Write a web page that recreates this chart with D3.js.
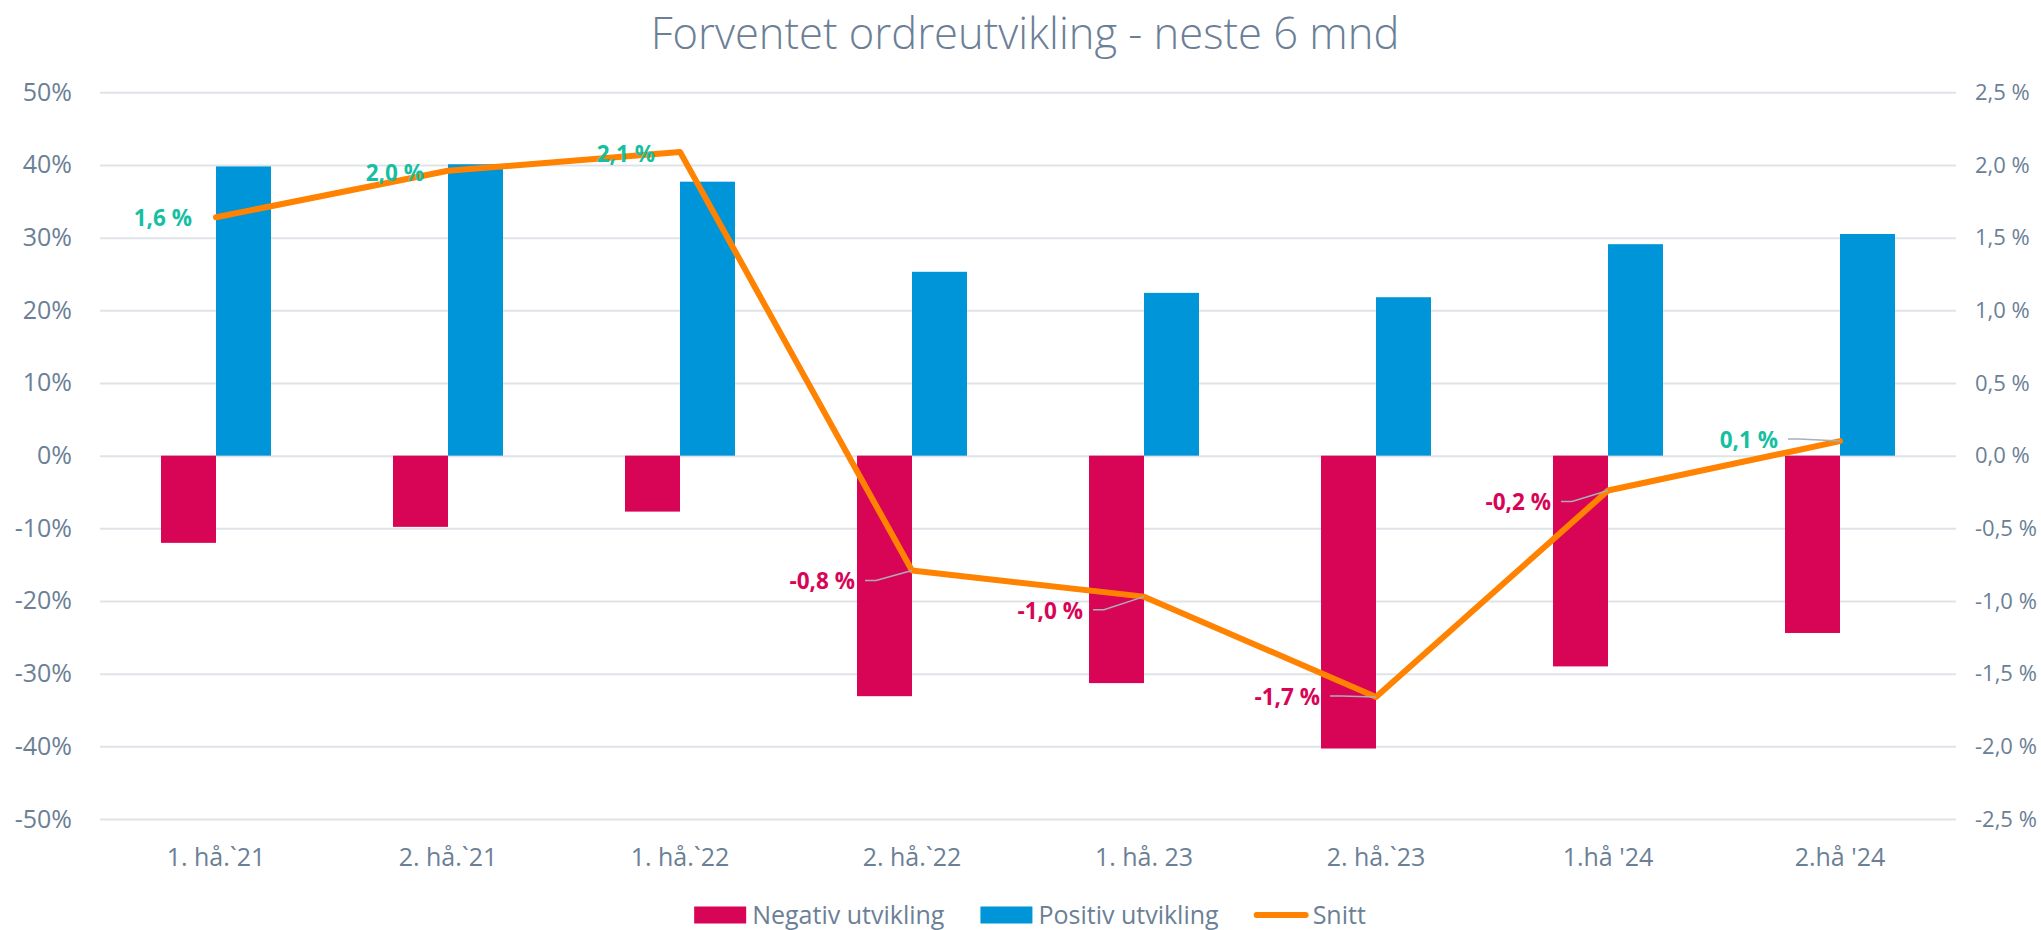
<!DOCTYPE html>
<html>
<head>
<meta charset="utf-8">
<script src="https://cdn.jsdelivr.net/npm/d3@7"></script>
<style>
  html, body { margin: 0; padding: 0; background: #fff; }
  svg text { font-family: 'Open Sans', 'Noto Sans', sans-serif; }
</style>
</head>
<body>
<div id="chart"></div>
<script>
// data
const categories = ['1. hå.`21', '2. hå.`21', '1. hå.`22', '2. hå.`22', '1. hå. 23', '2. hå.`23', '1.hå \'24', '2.hå \'24']
const negativ = [-12.0, -9.8, -7.7, -33.1, -31.3, -40.3, -29.0, -24.4]
const positiv = [39.8, 40.1, 37.7, 25.3, 22.4, 21.8, 29.1, 30.5]
const snitt = [1.64, 1.96, 2.09, -0.79, -0.97, -1.66, -0.24, 0.10]
const leftTicks = [-50, -40, -30, -20, -10, 0, 10, 20, 30, 40, 50]
const rightTicks = [-2.5, -2.0, -1.5, -1.0, -0.5, 0, 0.5, 1.0, 1.5, 2.0, 2.5]
const seriesNames = ['Negativ utvikling', 'Positiv utvikling', 'Snitt']

// label nudges for the Snitt labels: [dx of text right edge, dy of text centre, leader]
const labelNudge = [[-24, 1, false], [-24, 2, false], [-25, 2, false], [-57, 11, true],
                    [-61, 14, true], [-56, 0, true], [-57, 12, true], [-62, -1, true]]

const colors = { neg: '#d80456', pos: '#0094d8', line: '#ff8300', text: '#6b8096',
                 grid: '#dfe3e8', up: '#17bfa2', leader: '#a9afb6' }

const width = 2041, height = 930
const margin = { left: 100, right: 85, top: 92.3, bottom: 111 }
const plotW = width - margin.left - margin.right
const yTop = margin.top, yBottom = height - margin.bottom

const svg = d3.select('#chart').append('svg').attr('width', width).attr('height', height)

const x = d3.scaleBand().domain(categories).range([margin.left, margin.left + plotW])
    .paddingInner(0.526).paddingOuter(0.263)
const x1 = d3.scaleBand().domain(['neg', 'pos']).range([0, x.bandwidth()])
const yL = d3.scaleLinear().domain([-50, 50]).range([yBottom, yTop])
const yR = d3.scaleLinear().domain([-2.5, 2.5]).range([yBottom, yTop])

const fmtR = d => (d < 0 ? '-' : '') + Math.abs(d).toFixed(1).replace('.', ',') + ' %'

// title
svg.append('text').attr('x', 1025).attr('y', 49).attr('text-anchor', 'middle')
    .style('font-size', '43.5px').style('font-weight', 300).style('fill', colors.text)
    .text('Forventet ordreutvikling - neste 6 mnd')

// grid
const grid = svg.append('g').attr('transform', `translate(${margin.left},0)`)
    .call(d3.axisLeft(yL).tickValues(leftTicks).tickSize(-plotW).tickFormat(''))
grid.select('.domain').remove()
grid.selectAll('line').attr('stroke', colors.grid).attr('stroke-width', 2)

// left axis
const axL = svg.append('g').attr('transform', `translate(${margin.left},0)`)
    .call(d3.axisLeft(yL).tickValues(leftTicks).tickSize(0).tickPadding(28).tickFormat(d => d + '%'))
axL.select('.domain').remove()
axL.selectAll('text').style('font-size', '25px').style('fill', colors.text).style('font-family', null)

// right axis
const axR = svg.append('g').attr('transform', `translate(${margin.left + plotW},0)`)
    .call(d3.axisRight(yR).tickValues(rightTicks).tickSize(0).tickPadding(19).tickFormat(fmtR))
axR.select('.domain').remove()
axR.selectAll('text').style('font-size', '22px').style('fill', colors.text).style('font-family', null)

// bottom axis
const axB = svg.append('g').attr('transform', `translate(0,${yBottom})`)
    .call(d3.axisBottom(x).tickSize(0).tickPadding(29))
axB.select('.domain').remove()
axB.selectAll('text').style('font-size', '25px').style('fill', colors.text).style('font-family', null)

// bars
const groups = svg.append('g').selectAll('g').data(categories).join('g')
    .attr('transform', d => `translate(${x(d)},0)`)
groups.append('rect')
    .attr('x', x1('neg')).attr('width', x1.bandwidth())
    .attr('y', (d, i) => yL(0)).attr('height', (d, i) => yL(negativ[i]) - yL(0))
    .attr('fill', colors.neg)
groups.append('rect')
    .attr('x', x1('pos')).attr('width', x1.bandwidth())
    .attr('y', (d, i) => yL(positiv[i])).attr('height', (d, i) => yL(0) - yL(positiv[i]))
    .attr('fill', colors.pos)

// snitt line
const cx = d => x(d) + x.bandwidth() / 2
const line = d3.line().x((d, i) => cx(categories[i])).y(d => yR(d))
svg.append('path').datum(snitt).attr('d', line)
    .attr('fill', 'none').attr('stroke', colors.line).attr('stroke-width', 6)
    .attr('stroke-linejoin', 'round').attr('stroke-linecap', 'round')

// snitt labels with leader lines
const lbl = svg.append('g')
snitt.forEach((v, i) => {
    const px = cx(categories[i]), py = yR(v)
    const [dx, dy, lead] = labelNudge[i]
    const tx = px + dx, ty = py + dy
    if (lead) {
        lbl.append('polyline')
            .attr('points', [[tx + 10, ty - 1], [tx + 21, ty - 1], [px, py]].map(p => p.join(',')).join(' '))
            .attr('fill', 'none').attr('stroke', colors.leader).attr('stroke-width', 1.5)
    }
    lbl.append('text').attr('x', tx).attr('y', ty).attr('dy', '0.35em').attr('text-anchor', 'end')
        .style('font-size', '22.5px').style('font-weight', 700)
        .style('fill', v >= 0 ? colors.up : colors.neg)
        .text(fmtR(v))
})

// legend
const legend = svg.append('g')
let lx = 0
const items = [
    { name: seriesNames[0], type: 'rect', color: colors.neg },
    { name: seriesNames[1], type: 'rect', color: colors.pos },
    { name: seriesNames[2], type: 'line', color: colors.line }
]
items.forEach((it, i) => {
    const g = legend.append('g').attr('transform', `translate(${lx},0)`)
    if (it.type === 'rect') {
        g.append('rect').attr('x', 0).attr('y', -8.5).attr('width', 52).attr('height', 17).attr('fill', it.color)
    } else {
        g.append('line').attr('x1', 2).attr('x2', 51).attr('y1', 0).attr('y2', 0)
            .attr('stroke', it.color).attr('stroke-width', 6).attr('stroke-linecap', 'round')
    }
    const t = g.append('text').attr('x', 58).attr('y', 0).attr('dy', '0.35em')
        .style('font-size', '25px').style('fill', colors.text).text(it.name)
    lx += 58 + t.node().getComputedTextLength() + 36
})
const legW = lx - 36
legend.attr('transform', `translate(${1030 - legW / 2},915)`)
</script>
</body>
</html>
